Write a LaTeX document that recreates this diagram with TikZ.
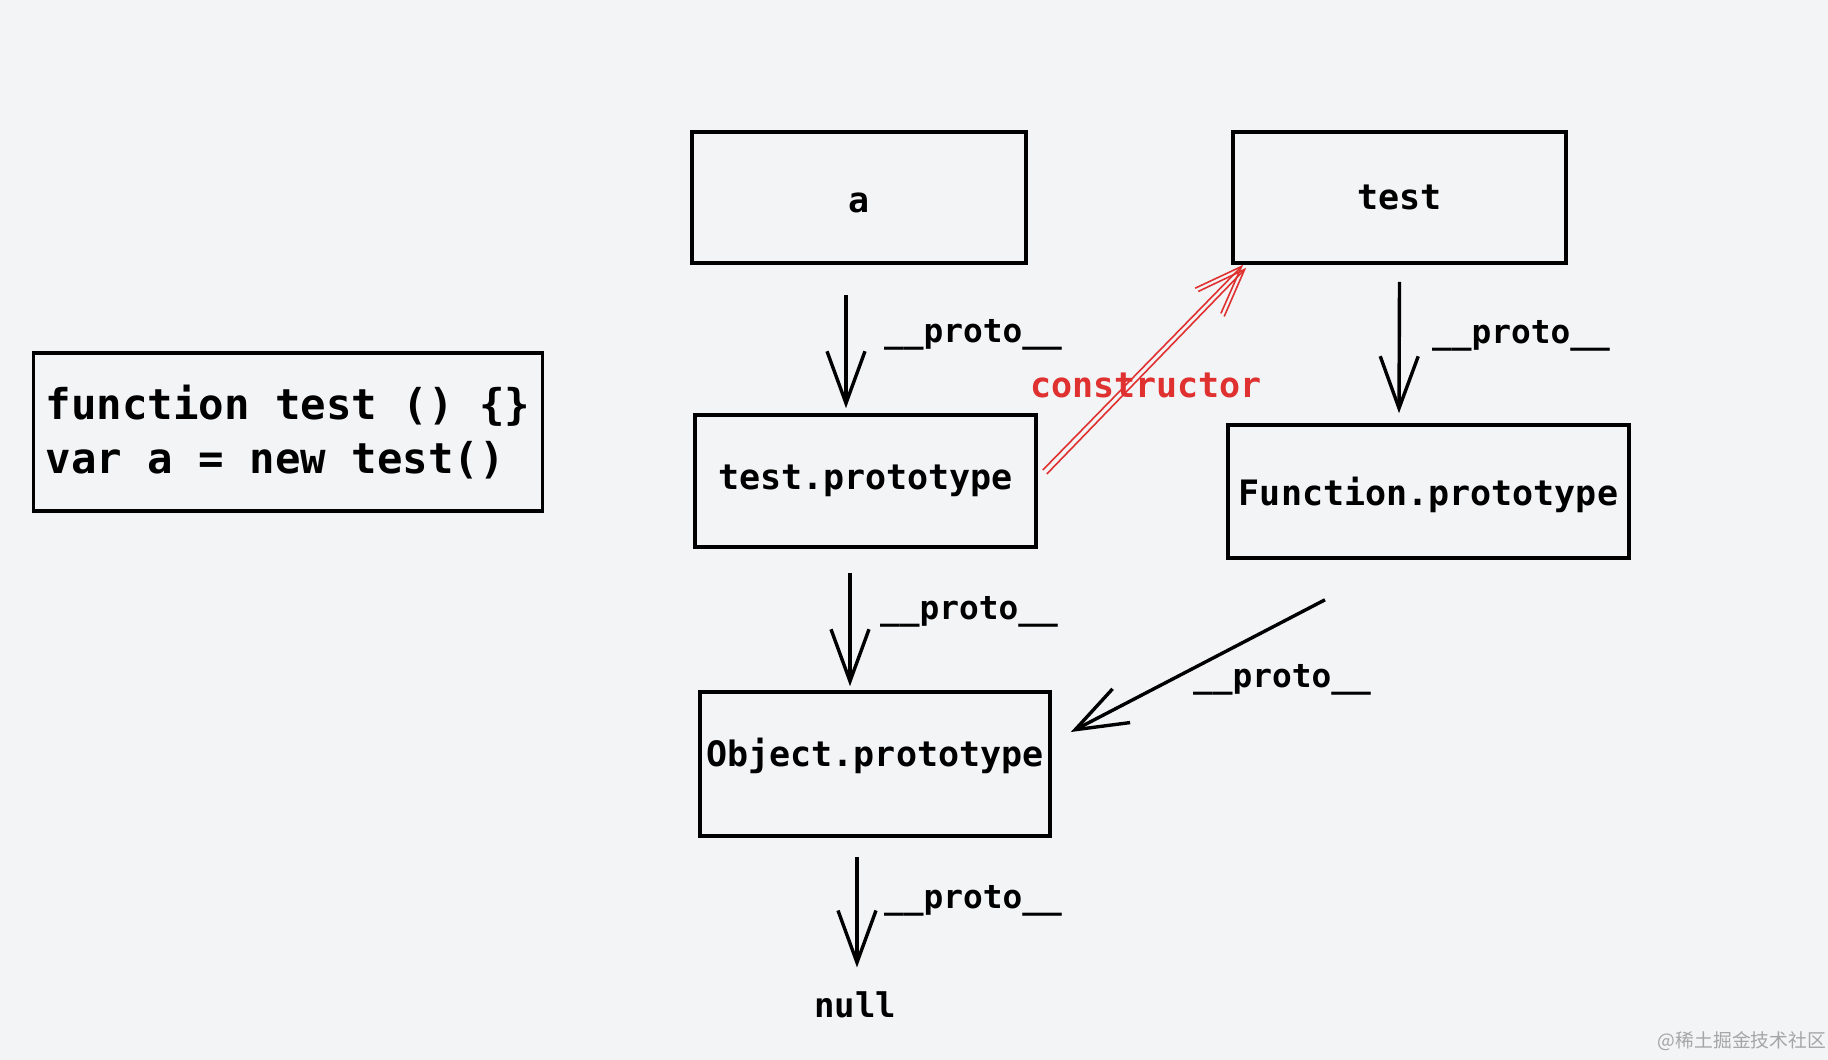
\documentclass[tikz,border=0pt]{standalone}
\usepackage{fontspec}
\setmonofont{DejaVu Sans Mono}
\newfontfamily\cjk{Noto Sans CJK SC}
\usetikzlibrary{arrows.meta,calc}
\definecolor{bgcol}{RGB}{243,244,246}
\definecolor{ctorred}{RGB}{224,49,49}
\definecolor{wmgray}{RGB}{165,165,165}
\begin{document}
\begin{tikzpicture}[x=0.5pt, y=-0.5pt,
    box/.style={draw, line width=1.8pt, inner sep=0pt, font=\ttfamily\bfseries\fontsize{17.5pt}{21pt}\selectfont},
    lbl/.style={inner sep=0pt, font=\ttfamily\bfseries\fontsize{16.4pt}{20pt}\selectfont},
    proto/.style={line width=1.7pt, -{Straight Barb[length=26pt,width=19pt,line width=1.7pt]}},
    ctor/.style={draw=ctorred, line width=0.8pt, -{Straight Barb[length=24pt,width=18pt,line width=0.8pt]}}]
  \fill[bgcol] (0,0) rectangle (1828,1060);
  \useasboundingbox (0,0) rectangle (1828,1060);
          \node [box, align=left, inner xsep=6pt, minimum height=79pt,
                 font=\ttfamily\bfseries\fontsize{21.2pt}{27pt}\selectfont] (code) at (288,432)
                 {function test () \{\}\\var a = new test()};
          \node [box, minimum width=167pt, minimum height=65.5pt, text height=15.4pt, text depth=0pt] (a) at (859,197.5) {a};
          \node [box, minimum width=166.5pt, minimum height=65.5pt] (test) at (1399.5,197.5) {test};
          \node [box, minimum width=170.5pt, minimum height=66pt] (tproto) at (865.5,481) {test.prototype};
          \node [box, minimum width=200.5pt, minimum height=66.5pt, text height=18pt, text depth=4.1pt] (fproto) at (1428.5,491.5) {Function.prototype};
          \node [box, minimum width=175pt, minimum height=72pt, text height=13.3pt, text depth=11.1pt] (oproto) at (875,764) {Object.prototype};
          \node [lbl, font=\ttfamily\bfseries\fontsize{17pt}{20pt}\selectfont] (null) at (855,1005) {null};
          \node [lbl] (l1) at (973,335) {\_\_proto\_\_};
          \node [lbl] (l2) at (1521,336) {\_\_proto\_\_};
          \node [lbl] (l3) at (969,612) {\_\_proto\_\_};
          \node [lbl] (l4) at (1282,680) {\_\_proto\_\_};
          \node [lbl] (l5) at (973,901) {\_\_proto\_\_};
          \node [lbl, text=ctorred, font=\ttfamily\bfseries\fontsize{17.5pt}{20pt}\selectfont] (cl) at (1146,385) {constructor};
          \node [inner sep=0pt, text=wmgray, font=\cjk\fontsize{9.4pt}{12pt}\selectfont] (wm) at (1742,1041) {@稀土掘金技术社区};
\draw[proto] ($(a.south)+(-13,30)$) -- ($(tproto.north)+(-19.5,-5)$);
\draw[proto] ($(test.south)+(0,17)$) -- ($(fproto.north)+(-29.5,-10)$);
\draw[proto] ($(tproto.south)+(-15.5,24)$) -- ($(oproto.north)+(-25,-4)$);
\draw[proto] ($(fproto.south)+(-103.5,40)$) -- ($(oproto.east)+(19,-32)$);
\draw[proto] ($(oproto.south)+(-18,19)$) -- ($(null.north)+(2,-24)$);
\draw[ctor] ($(tproto.east)+(5,-11)$) -- ($(test.south west)+(12,0)$);
\draw[ctor] ($(tproto.east)+(9,-7)$) -- ($(test.south west)+(15,3)$);
        \end{tikzpicture}
\end{document}
